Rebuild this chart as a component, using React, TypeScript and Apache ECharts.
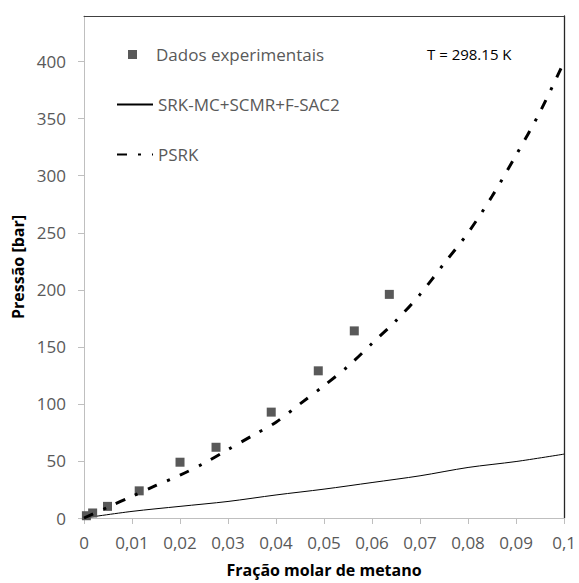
import React, { useEffect, useRef } from "react";
import * as echarts from "echarts";

// Experimental data (Dados experimentais)
const expX = [0.0005, 0.0018, 0.0049, 0.0115, 0.02, 0.0275, 0.039, 0.0488, 0.0563, 0.0636];
const expY = [2, 4.4, 10.2, 23.8, 48.9, 62, 92.8, 129, 164, 196];

// SRK-MC+SCMR+F-SAC2 model
const srkX = [0, 0.01, 0.02, 0.03, 0.04, 0.05, 0.06, 0.07, 0.08, 0.09, 0.1];
const srkY = [0, 5.8, 10.2, 14.5, 20.2, 25.3, 31.1, 37, 44.3, 49.5, 56];

// PSRK model
const psrkX = [0, 0.005, 0.01, 0.015, 0.02, 0.025, 0.03, 0.035, 0.04, 0.045, 0.05, 0.055, 0.06, 0.065, 0.07, 0.075, 0.08, 0.085, 0.09, 0.095, 0.1];
const psrkY = [0, 9.5, 19, 28.5, 37.5, 48, 60, 72, 84, 100, 116, 133, 153, 173, 196, 223, 250, 282, 318, 356, 400];

const yTicks = [0, 50, 100, 150, 200, 250, 300, 350, 400];

const FONT = "Open Sans";

const fmtX = (v: number) => {
  if (Math.abs(v) < 1e-9) return "0";
  return v.toFixed(2).replace(/0+$/, "").replace(".", ",");
};

export default function App() {
  const ref = useRef<HTMLDivElement>(null);
  useEffect(() => {
    if (!ref.current) return;
    const chart = echarts.init(ref.current, null, { renderer: "svg" });
    const legendText = { color: "#595959", fontSize: 17, fontFamily: FONT };
    chart.setOption({
      animation: false,
      textStyle: { fontFamily: FONT },
      title: {
        text: "T = 298.15 K",
        left: 427,
        top: 46,
        padding: 0,
        textStyle: { fontSize: 15, fontWeight: "normal", color: "#000", fontFamily: FONT },
      },
      legend: [
        {
          data: ["Dados experimentais"],
          left: 128,
          top: 46,
          padding: 0,
          icon: "rect",
          itemWidth: 9,
          itemHeight: 9,
          itemStyle: { opacity: 1 },
          textStyle: { ...legendText, padding: [0, 0, 0, 14] },
        },
        {
          data: ["SRK-MC+SCMR+F-SAC2"],
          left: 116,
          top: 96,
          padding: 0,
          itemWidth: 36,
          itemHeight: 2,
          itemStyle: { opacity: 0 },
          textStyle: legendText,
        },
        {
          data: ["PSRK"],
          left: 116,
          top: 146,
          padding: 0,
          itemWidth: 36,
          itemHeight: 2,
          itemStyle: { opacity: 0 },
          textStyle: legendText,
        },
      ],
      grid: { left: 84, right: 12, top: 16, bottom: 63, containLabel: false },
      xAxis: [
        {
          type: "value",
          position: "bottom",
          min: 0,
          max: 0.1,
          interval: 0.01,
          name: "Fração molar de metano",
          nameLocation: "middle",
          nameGap: 44,
          nameTextStyle: { fontSize: 16, fontWeight: "bold", color: "#000", fontFamily: FONT },
          axisLine: { show: true, onZero: false, lineStyle: { color: "#bfbfbf", width: 1 } },
          axisTick: { show: true, length: 6, lineStyle: { color: "#bfbfbf" } },
          axisLabel: { formatter: fmtX, color: "#595959", fontSize: 17, margin: 16, fontFamily: FONT },
          splitLine: { show: false },
        },
        {
          type: "value",
          position: "top",
          min: 0,
          max: 0.1,
          axisLine: { show: true, onZero: false, lineStyle: { color: "#404040", width: 1 } },
          axisTick: { show: false },
          axisLabel: { show: false },
          splitLine: { show: false },
        },
      ],
      yAxis: [
        {
          type: "value",
          position: "left",
          min: 0,
          max: 440,
          interval: 50,
          name: "Pressão [bar]",
          nameLocation: "middle",
          nameGap: 54,
          nameTextStyle: { fontSize: 16, fontWeight: "bold", color: "#000", fontFamily: FONT },
          axisLine: { show: true, onZero: false, lineStyle: { color: "#bfbfbf", width: 1 } },
          axisTick: { show: true, length: 6, lineStyle: { color: "#bfbfbf" }, customValues: yTicks },
          axisLabel: { color: "#595959", fontSize: 17, margin: 18, customValues: yTicks, fontFamily: FONT },
          splitLine: { show: false },
        },
        {
          type: "value",
          position: "right",
          min: 0,
          max: 440,
          axisLine: { show: true, onZero: false, lineStyle: { color: "#262626", width: 1.3 } },
          axisTick: { show: false },
          axisLabel: { show: false },
          splitLine: { show: false },
        },
      ],
      series: [
        {
          name: "Dados experimentais",
          type: "scatter",
          data: expX.map((x, i) => [x, expY[i]]),
          symbol: "rect",
          symbolSize: 9,
          itemStyle: { color: "#595959", opacity: 1 },
          z: 3,
        },
        {
          name: "SRK-MC+SCMR+F-SAC2",
          type: "line",
          data: srkX.map((x, i) => [x, srkY[i]]),
          symbol: "none",
          smooth: 0.3,
          lineStyle: { color: "#000", width: 1 },
          itemStyle: { color: "#000" },
          z: 2,
        },
        {
          name: "PSRK",
          type: "line",
          data: psrkX.map((x, i) => [x, psrkY[i]]),
          symbol: "none",
          smooth: 0.3,
          lineStyle: { color: "#000", width: 3, type: [10, 11, 3, 11], cap: "butt" },
          itemStyle: { color: "#000" },
          z: 4,
        },
      ],
    });
    return () => chart.dispose();
  }, []);
  return (
    <div
      ref={ref}
      style={{ position: "fixed", left: 0, top: 0, width: 579, height: 583, background: "#fff" }}
    />
  );
}
